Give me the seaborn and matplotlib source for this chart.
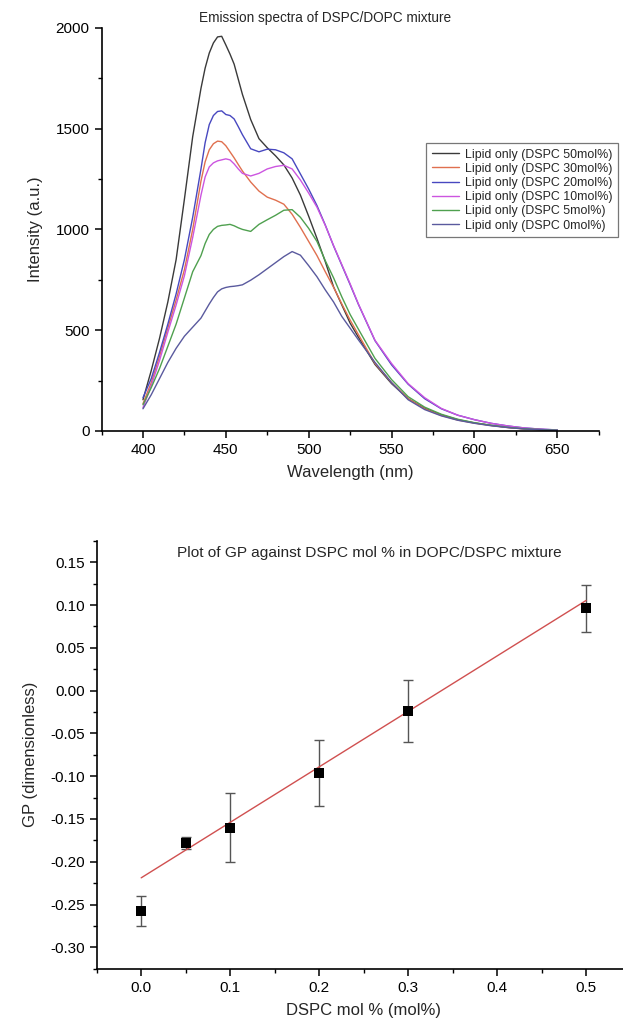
import matplotlib
matplotlib.use("Agg")
import matplotlib.pyplot as plt
import numpy as np
import pandas as pd
import seaborn as sns
from matplotlib.ticker import MultipleLocator, FormatStrFormatter

# Emission spectra
wavelength = [400, 405, 410, 415, 420, 425, 430, 435, 437.5, 440, 442.5, 445, 447.5, 450,
              452.5, 455, 457.5, 460, 465, 470, 475, 480, 485, 490, 495, 500, 505, 510,
              515, 520, 525, 530, 540, 550, 560, 570, 580, 590, 600, 610, 620, 630, 640, 650]
dspc50 = [155, 300, 460, 640, 850, 1150, 1460, 1700, 1800, 1875, 1925, 1955, 1958, 1915,
          1870, 1820, 1745, 1670, 1545, 1450, 1405, 1365, 1320, 1255, 1170, 1065, 955, 840,
          715, 625, 535, 465, 330, 235, 160, 112, 80, 56, 40, 28, 18, 11, 7, 4]
dspc30 = [135, 240, 370, 510, 650, 800, 1000, 1240, 1335, 1395, 1425, 1438, 1435, 1415,
          1385, 1355, 1322, 1290, 1235, 1190, 1160, 1145, 1125, 1075, 1010, 940, 870, 790,
          713, 630, 550, 478, 335, 240, 160, 110, 77, 54, 39, 27, 17, 10, 6, 3]
dspc20 = [165, 260, 390, 530, 680, 850, 1060, 1300, 1430, 1520, 1565, 1585, 1588, 1570,
          1565, 1548, 1510, 1470, 1400, 1385, 1398, 1395, 1380, 1350, 1275, 1200, 1118, 1022,
          918, 822, 726, 628, 448, 328, 232, 160, 110, 78, 56, 38, 25, 15, 9, 5]
dspc10 = [115, 225, 350, 490, 625, 770, 960, 1170, 1260, 1310, 1330, 1340, 1345, 1350,
          1345, 1325, 1300, 1278, 1265, 1278, 1300, 1312, 1318, 1300, 1245, 1180, 1110, 1020,
          920, 825, 730, 630, 450, 335, 235, 165, 112, 78, 56, 38, 25, 15, 9, 5]
dspc5 = [130, 215, 310, 420, 530, 660, 790, 870, 930, 975, 1000, 1015, 1020, 1022,
         1025, 1018, 1008, 1000, 990, 1025, 1048, 1070, 1095, 1098, 1060, 1005, 940, 845,
         760, 665, 578, 505, 360, 255, 170, 118, 83, 58, 41, 28, 18, 11, 7, 4]
dspc0 = [110, 180, 260, 340, 410, 470, 515, 560, 595, 630, 662, 690, 705, 712,
         716, 718, 721, 725, 748, 775, 805, 835, 865, 890, 872, 820, 765, 700,
         640, 568, 510, 452, 340, 240, 155, 106, 75, 53, 38, 26, 17, 10, 6, 3]

labels = ["Lipid only (DSPC 50mol%)", "Lipid only (DSPC 30mol%)", "Lipid only (DSPC 20mol%)",
          "Lipid only (DSPC 10mol%)", "Lipid only (DSPC 5mol%)", "Lipid only (DSPC 0mol%)"]
colors = ["#3a3a3a", "#e0704f", "#4848c0", "#cc55e0", "#4fa04f", "#5a5a9e"]

# GP data
dspc_frac = [0.0, 0.05, 0.1, 0.2, 0.3, 0.5]
gp = [-0.258, -0.178, -0.160, -0.096, -0.024, 0.096]
gp_err = [0.0175, 0.0075, 0.040, 0.0385, 0.036, 0.0275]

sns.set_style("ticks")
plt.rcParams["font.family"] = ["Liberation Sans", "DejaVu Sans"]
plt.rcParams["axes.unicode_minus"] = False

fig = plt.figure(figsize=(6.23, 10.31), dpi=100)

# ---- top: emission spectra
ax1 = fig.add_axes([0.163, 0.582, 0.798, 0.391])
spectra = pd.DataFrame({"wl": wavelength * 6,
                        "I": dspc50 + dspc30 + dspc20 + dspc10 + dspc5 + dspc0,
                        "sample": [l for l in labels for _ in wavelength]})
sns.lineplot(data=spectra, x="wl", y="I", hue="sample", hue_order=labels,
             palette=dict(zip(labels, colors)), sort=False, estimator=None,
             linewidth=1.0, ax=ax1)
ax1.set_xlim(375, 675)
ax1.set_ylim(0, 2000)
ax1.xaxis.set_major_locator(MultipleLocator(50))
ax1.xaxis.set_minor_locator(MultipleLocator(25))
ax1.yaxis.set_major_locator(MultipleLocator(500))
ax1.yaxis.set_minor_locator(MultipleLocator(250))
ax1.set_xlabel("Wavelength (nm)", fontsize=12, labelpad=6)
ax1.set_ylabel("Intensity (a.u.)", fontsize=12, labelpad=9)
leg = ax1.legend(loc="upper left", bbox_to_anchor=(426 / 623, 1 - 143 / 1031),
                 bbox_transform=fig.transFigure, fontsize=8.9, frameon=True,
                 fancybox=False, handlelength=2.2, labelspacing=0.18,
                 borderpad=0.45, borderaxespad=0, handletextpad=0.5)
leg.get_frame().set_edgecolor("#555555")
leg.get_frame().set_linewidth(0.9)
fig.text(325 / 623, 1 - 18 / 1031, "Emission spectra of DSPC/DOPC mixture",
         ha="center", va="center", fontsize=9.8)

# ---- bottom: GP vs DSPC fraction
ax2 = fig.add_axes([0.1552, 0.0604, 0.857, 0.415])
slope, intercept = np.polyfit(dspc_frac, gp, 1, w=1 / np.array(gp_err))
fit_x = [dspc_frac[0], dspc_frac[-1]]
fit = pd.DataFrame({"x": fit_x, "y": [intercept + slope * v for v in fit_x]})
sns.lineplot(data=fit, x="x", y="y", color="#d05050", linewidth=1.0, ax=ax2, zorder=2)
ax2.errorbar(dspc_frac, gp, yerr=gp_err, fmt="none", ecolor="#555555",
             elinewidth=1.0, capsize=3.5, capthick=1.0, zorder=1)
pts = pd.DataFrame({"x": dspc_frac, "y": gp})
sns.scatterplot(data=pts, x="x", y="y", marker="s", color="black", s=42,
                edgecolor="black", linewidth=0, ax=ax2, zorder=3)
ax2.set_xlim(-0.05, 0.55)
ax2.set_ylim(-0.325, 0.175)
ax2.xaxis.set_major_locator(MultipleLocator(0.1))
ax2.xaxis.set_minor_locator(MultipleLocator(0.05))
ax2.xaxis.set_major_formatter(FormatStrFormatter("%.1f"))
ax2.yaxis.set_major_locator(MultipleLocator(0.05))
ax2.yaxis.set_minor_locator(MultipleLocator(0.025))
ax2.yaxis.set_major_formatter(FormatStrFormatter("%.2f"))
ax2.set_xlabel("DSPC mol % (mol%)", fontsize=12, labelpad=6)
ax2.set_ylabel("GP (dimensionless)", fontsize=12, labelpad=9)
fig.text(369 / 623, 1 - 553 / 1031, "Plot of GP against DSPC mol % in DOPC/DSPC mixture",
         ha="center", va="center", fontsize=11.1)

for ax in (ax1, ax2):
    sns.despine(ax=ax)
    for s in ("left", "bottom"):
        ax.spines[s].set_linewidth(1.2)
        ax.spines[s].set_color("black")
    ax.tick_params(which="major", direction="out", length=5, width=1.1,
                   labelsize=11, colors="black")
    ax.tick_params(which="minor", direction="out", length=3, width=1.0, colors="black")

fig.savefig("out.png", dpi=100)
